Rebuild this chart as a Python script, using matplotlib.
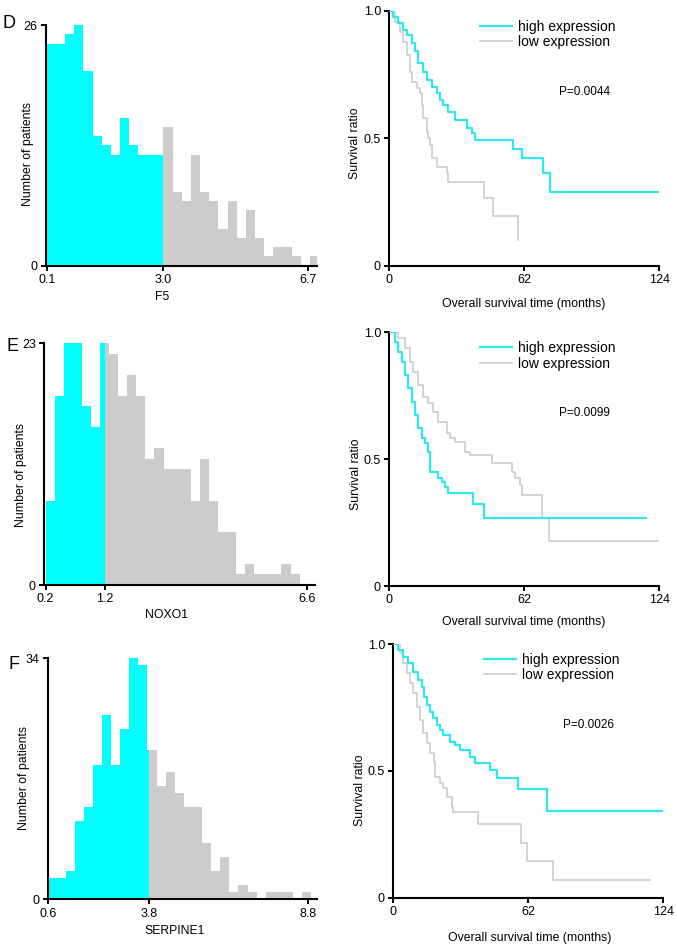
import numpy as np
import matplotlib
matplotlib.use("Agg")
import matplotlib.pyplot as plt

plt.rcParams['font.family'] = ['Liberation Sans', 'DejaVu Sans']

CYAN = '#00FFFF'
CYAN_LINE = '#30E8EC'
GREY = '#CCCCCC'

# ---- histograms: patient counts per bin (bin units on x) ----
d_cyan = [24, 24, 25, 26, 21, 14, 13, 12, 16, 13, 12, 12, 12]
d_grey = [15, 8, 7, 12, 8, 7, 4, 7, 3, 6, 3, 1, 2, 2, 1, 0, 1]
e_cyan = [8, 18, 23, 23, 17, 15, 23]
e_grey = [23, 22, 18, 20, 18, 12, 13, 11, 11, 11, 8, 12, 8, 5, 5, 1, 2, 1, 1, 1, 2, 1]
f_cyan = [3, 3, 4, 11, 13, 19, 26, 19, 24, 34, 33, 21]
f_grey = [21, 16, 18, 15, 13, 13, 8, 4, 6, 1, 2, 1, 0, 1, 1, 1, 0, 1]

hist_genes = ['F5', 'NOXO1', 'SERPINE1']
hist_ymax = [26, 23, 34]
hist_ticklabels = [['0.1', '3.0', '6.7'], ['0.2', '1.2', '6.6'], ['0.6', '3.8', '8.8']]
# cyan bins start, cut-off position, grey bins start, last tick position
hist_split = [12.73, 6.54, 11.06]
hist_cyan_start = [0.0, 0.0, -0.1]
hist_grey_start = [12.73, 6.0, 10.9]
hist_last_tick = [28.55, 28.8, 28.57]

# ---- Kaplan-Meier curves: event time (months) and survival after event ----
d_high_t = [1.9, 4.1, 6.4, 8.0, 10.3, 11.8, 13.3, 15.6, 17.2, 19.5, 21.8, 23.3, 24.8,
            27.1, 30.2, 35.6, 37.8, 39.4, 57.0, 60.8, 70.8, 73.8]
d_high_s = [0.976, 0.95, 0.924, 0.905, 0.872, 0.84, 0.793, 0.76, 0.728, 0.702, 0.676,
            0.65, 0.63, 0.604, 0.571, 0.539, 0.519, 0.493, 0.458, 0.424, 0.362, 0.29]
d_low_t = [2.6, 4.9, 6.4, 8.0, 9.5, 10.3, 12.6, 14.1, 14.9, 15.6, 17.2, 17.9, 18.7,
           19.5, 21.8, 26.4, 27.1, 43.7, 47.8, 59.0]
d_low_s = [0.957, 0.918, 0.878, 0.826, 0.76, 0.72, 0.695, 0.676, 0.63, 0.578, 0.525,
           0.5, 0.473, 0.421, 0.388, 0.362, 0.329, 0.264, 0.196, 0.10]

e_high_t = [2.6, 4.1, 5.7, 7.2, 8.8, 10.3, 11.8, 13.3, 14.9, 16.4, 17.6, 18.7, 22.5,
            24.1, 25.6, 27.1, 38.6, 43.7]
e_high_s = [0.963, 0.924, 0.884, 0.832, 0.779, 0.727, 0.674, 0.622, 0.582, 0.562,
            0.53, 0.451, 0.424, 0.411, 0.392, 0.368, 0.322, 0.269]
e_low_t = [4.1, 7.2, 9.5, 11.0, 13.3, 15.6, 17.9, 20.2, 22.5, 26.4, 28.0, 30.2, 34.8,
           37.1, 47.0, 56.2, 57.7, 60.0, 60.8, 70.3, 73.4]
e_low_s = [0.976, 0.937, 0.884, 0.845, 0.792, 0.746, 0.72, 0.687, 0.648, 0.602, 0.585,
           0.569, 0.53, 0.516, 0.484, 0.451, 0.424, 0.398, 0.359, 0.269, 0.177]

f_high_t = [2.3, 4.6, 6.9, 9.2, 11.5, 13.3, 14.3, 15.3, 16.9, 18.4, 19.9, 21.5, 23.0,
            26.1, 28.3, 30.6, 35.2, 37.5, 44.4, 47.5, 57.1, 70.8]
f_high_s = [0.976, 0.95, 0.924, 0.891, 0.858, 0.832, 0.792, 0.76, 0.733, 0.707, 0.681,
            0.661, 0.641, 0.615, 0.602, 0.582, 0.556, 0.53, 0.503, 0.47, 0.428, 0.343]
f_low_t = [3.1, 4.6, 6.1, 7.7, 9.2, 10.7, 12.3, 13.8, 15.3, 16.9, 18.9, 19.2, 21.5,
           23.0, 24.5, 26.8, 27.6, 39.1, 58.8, 61.3, 73.5]
f_low_s = [0.963, 0.924, 0.884, 0.845, 0.806, 0.753, 0.70, 0.648, 0.608, 0.569, 0.536,
           0.477, 0.451, 0.431, 0.398, 0.359, 0.336, 0.289, 0.217, 0.145, 0.07]

high_end = [124, 117.9, 124]
low_end = [59.0, 124, 117.9]
p_values = ['P=0.0044', 'P=0.0099', 'P=0.0026']
panels = ['D', 'E', 'F']

W, H = 677, 947
fig = plt.figure(figsize=(W / 100, H / 100), dpi=100)


def rect(x0, y0, x1, y1):
    # pixel box -> figure fraction
    return [x0 / W, 1 - y1 / H, (x1 - x0) / W, (y1 - y0) / H]


def ftext(x, y, s, **kw):
    fig.text(x / W, 1 - y / H, s, **kw)


def style(ax):
    for side in ('top', 'right'):
        ax.spines[side].set_visible(False)
    for side in ('left', 'bottom'):
        ax.spines[side].set_linewidth(1.5)
    ax.tick_params(length=3.5, width=1.4, labelsize=9, pad=2.5)


hist_boxes = [(45.7, 25, 316.7, 265.7), (44.3, 343.3, 315, 585), (47.7, 658.3, 316.7, 899.3)]
hist_xlim = [(-0.11, 29.45), (-0.15, 29.7), (-0.07, 29.5)]
surv_boxes = [(389.3, 10.7, 659.3, 265.7), (389.3, 332.3, 659.3, 586), (393.3, 644, 663.3, 897.7)]
hist_counts = [(d_cyan, d_grey), (e_cyan, e_grey), (f_cyan, f_grey)]
curves = [(d_high_t, d_high_s, d_low_t, d_low_s),
          (e_high_t, e_high_s, e_low_t, e_low_s),
          (f_high_t, f_high_s, f_low_t, f_low_s)]

hist_ylab = [(28, 154), (21, 475), (24, 778)]
hist_xlab = [(162, 297), (166, 615), (174.5, 931)]
surv_ylab = [(355, 143), (356, 474), (360, 790)]
surv_xlab = [(524, 304), (524, 622), (529.7, 938)]
letters = [(3, 15), (6, 338), (9, 656)]

for i in range(3):
    # histogram
    ax = fig.add_axes(rect(*hist_boxes[i]))
    cyan, grey = hist_counts[i]
    split = hist_split[i]
    l = hist_cyan_start[i] + np.arange(len(cyan))
    left = np.maximum(l, 0)
    right = np.minimum(l + 1, split)
    ax.bar(left, cyan, width=right - left, align='edge', color=CYAN, linewidth=0)
    l = hist_grey_start[i] + np.arange(len(grey))
    left = np.maximum(l, split)
    ax.bar(left, grey, width=l + 1 - left, align='edge', color=GREY, linewidth=0)
    ax.set_xlim(*hist_xlim[i])
    ax.set_ylim(0, hist_ymax[i])
    ax.set_xticks([0, split, hist_last_tick[i]])
    ax.set_xticklabels(hist_ticklabels[i])
    ax.set_yticks([0, hist_ymax[i]])
    style(ax)
    ftext(*hist_ylab[i], 'Number of patients', rotation=90, ha='center', va='center', fontsize=8.8)
    ftext(*hist_xlab[i], hist_genes[i], ha='center', va='center', fontsize=8.8)
    ftext(*letters[i], panels[i], ha='left', va='top', fontsize=13)

    # survival
    ax = fig.add_axes(rect(*surv_boxes[i]))
    ht, hs, lt, ls = curves[i]
    ax.step(np.r_[0, ht, high_end[i]], np.r_[1, hs, hs[-1]], where='post',
            color=CYAN_LINE, lw=1.6, label='high expression', zorder=3)
    ax.step(np.r_[0, lt, low_end[i]], np.r_[1, ls, ls[-1]], where='post',
            color=GREY, lw=1.2, label='low expression', zorder=2)
    ax.set_xlim(0, 124)
    ax.set_ylim(0, 1)
    ax.set_xticks([0, 62, 124])
    ax.set_yticks([0, 0.5, 1.0])
    ax.set_yticklabels(['0', '0.5', '1.0'])
    style(ax)
    ax.legend(loc='upper left', bbox_to_anchor=(0.336, 0.965), frameon=False, fontsize=10,
              handlelength=2.3, handletextpad=0.4, labelspacing=0.1, borderpad=0,
              borderaxespad=0)
    ax.text(78, 0.68, p_values[i], fontsize=8.5, ha='left', va='center')
    ftext(*surv_ylab[i], 'Survival ratio', rotation=90, ha='center', va='center', fontsize=8.8)
    ftext(*surv_xlab[i], 'Overall survival time (months)', ha='center', va='center', fontsize=8.8)

fig.savefig('out.png', dpi=100)
